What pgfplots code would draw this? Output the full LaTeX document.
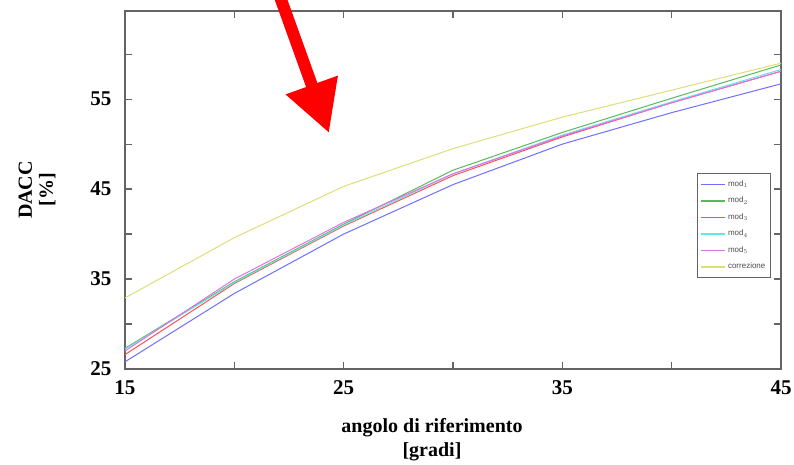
\documentclass[border=0pt]{standalone}
\usepackage{pgfplots}
\pgfplotsset{compat=1.18}
\usepackage{fontspec}
\setmainfont{Liberation Serif}
\newfontfamily\legfont{Liberation Sans}
\usetikzlibrary{arrows.meta}
\definecolor{axgray}{RGB}{100,100,100}
\definecolor{cblue}{RGB}{110,110,255}
\definecolor{cgreen}{RGB}{90,185,90}
\definecolor{cred}{RGB}{255,80,80}
\definecolor{ccyan}{RGB}{100,230,230}
\definecolor{cmag}{RGB}{225,110,235}
\definecolor{cyel}{RGB}{222,222,120}
\begin{document}
\begin{tikzpicture}
\begin{axis}[
  name=ax,
  scale only axis,
  width=656pt, height=358pt,
  xmin=15, xmax=45, ymin=25, ymax=64.8,
  xtick={15,20,...,45}, xticklabels={15,,25,,35,,45},
  ytick={25,30,...,60}, yticklabels={25,,35,,45,,55,},
  tick align=inside,
  major tick length=7pt,
  tick style={axgray, line width=1.2pt},
  axis line style={axgray, line width=1.5pt},
  ticklabel style={font=\bfseries\fontsize{21}{21}\selectfont},
  xticklabel style={yshift=-8pt},
  yticklabel style={xshift=-10pt},
  xlabel={angolo di riferimento\\{[gradi]}},
  xlabel style={font=\bfseries\fontsize{20}{24}\selectfont, align=center, at={(axis description cs:0.468,-0.198)}, anchor=center},
  ylabel={DACC\\{[\%]}},
  ylabel style={font=\bfseries\fontsize{20}{21}\selectfont, align=center, at={(axis description cs:-0.134,0.5)}, anchor=center},
  clip=false,
  legend cell align=left,
  legend style={at={(axis description cs:0.872,0.547)}, anchor=north west,
    font=\legfont\fontsize{8}{8}\selectfont, text=black!70, draw=axgray, line width=1pt,
    row sep=5.2pt, inner xsep=3pt, inner ysep=5pt},
  legend image code/.code={\draw[#1, line width=1.5pt] (0pt,0pt) -- (24pt,0pt);},
  every axis plot/.append style={line width=1pt},
]
\addplot[draw=cblue] coordinates {(15,25.8)(20,33.4)(25,40.0)(30,45.5)(35,50.0)(40,53.5)(45,56.7)};
\addplot[draw=cgreen] coordinates {(15,27.3)(20,34.7)(25,41.1)(30,47.1)(35,51.3)(40,55.1)(45,58.8)};
\addplot[draw=cred] coordinates {(15,26.6)(20,34.5)(25,40.9)(30,46.5)(35,50.8)(40,54.6)(45,58.1)};
\addplot[draw=ccyan] coordinates {(15,27.2)(20,34.6)(25,41.0)(30,46.7)(35,51.0)(40,54.7)(45,58.3)};
\addplot[draw=cmag] coordinates {(15,27.0)(20,35.0)(25,41.3)(30,46.7)(35,50.9)(40,54.6)(45,58.1)};
\addplot[draw=cyel] coordinates {(15,32.9)(20,39.6)(25,45.3)(30,49.5)(35,53.0)(40,56.0)(45,59.0)};
\legend{mod$_1$,mod$_2$,mod$_3$,mod$_4$,mod$_5$,correzione}
\end{axis}
\draw[red, line width=12pt, -{Triangle[length=51pt,width=52pt]}]
  ([shift={(154pt,375pt)}]ax.south west) -- ([shift={(204pt,236pt)}]ax.south west);
\pgfresetboundingbox
\path[use as bounding box] ([shift={(-125pt,-96pt)}]ax.south west) rectangle ([shift={(669pt,369pt)}]ax.south west);
\end{tikzpicture}
\end{document}
